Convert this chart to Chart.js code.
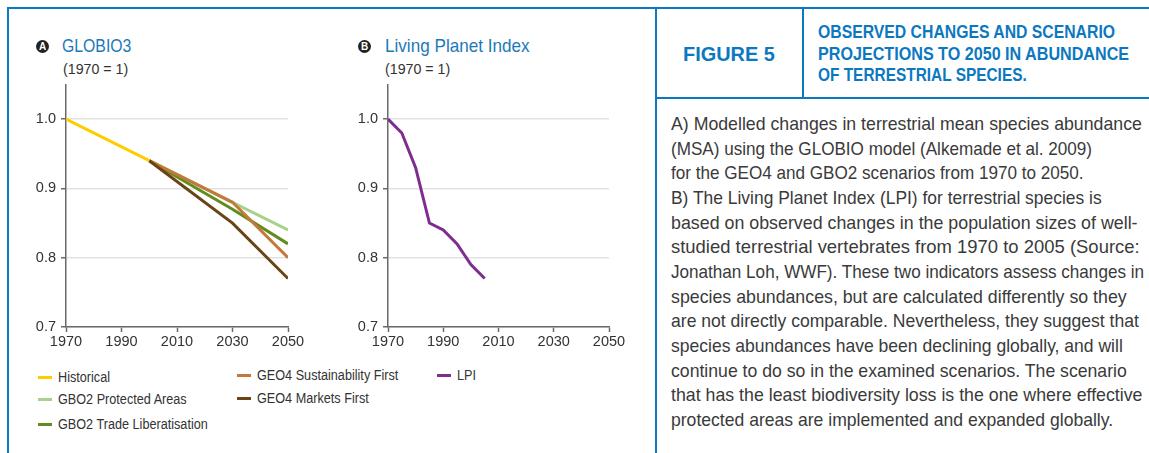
<!DOCTYPE html>
<html>
<head>
<meta charset="utf-8">
<script src="https://cdn.jsdelivr.net/npm/chart.js@4/dist/chart.umd.min.js"></script>
<style>
  body { margin: 0; width: 1149px; height: 453px; background: #fff; position: relative; overflow: hidden;
    font-family: "Liberation Sans", Arial, sans-serif; color: #333; }
  .abs { position: absolute; }
  .fit { white-space: nowrap; transform-origin: 0 0; }
  .badge { position: absolute; width: 13px; height: 13px; border-radius: 50%; background: #222; color: #fff;
    font: bold 10px "Liberation Sans", Arial, sans-serif; text-align: center; line-height: 13px; }
  .ptitle { position: absolute; color: #1b7ab8; font-size: 19px; line-height: 20px; }
  .unit { position: absolute; font-size: 14px; color: #333; }
  .legend-item { position: absolute; font-size: 14px; color: #333; line-height: 16px; }
  .legend-item i { position: absolute; left: 0; top: 7px; width: 14px; height: 3px; }
  .legend-item span { position: absolute; left: 20px; top: 0; }
  .border { position: absolute; background: #0b78c0; }
  #figno { position: absolute; left: 656px; top: 9px; width: 147px; height: 89px; color: #0b78c0; font-weight: bold; font-size: 21px; }
  #figno span { position: absolute; left: 27px; top: 33px; }
  #figtitle div { position: absolute; left: 818px; color: #0b78c0; font-weight: bold; font-size: 18px; line-height: 21px; }
  #caption div { position: absolute; left: 671px; font-size: 19px; line-height: 24px; color: #3a3a3a; }
</style>
</head>
<body>

<!-- frame lines -->
<div class="border" style="left:8px;top:7px;width:1141px;height:2px"></div>
<div class="border" style="left:7px;top:7px;width:2px;height:446px"></div>
<div class="border" style="left:655px;top:7px;width:2px;height:446px"></div>
<div class="border" style="left:802px;top:7px;width:2px;height:91px"></div>
<div class="border" style="left:656px;top:97px;width:493px;height:2px"></div>

<div class="badge" style="left:36px;top:40px">A</div>
<div class="ptitle fit" data-w="69" style="left:62px;top:36px">GLOBIO3</div>
<div class="unit fit" data-w="65" style="left:63px;top:61px">(1970 = 1)</div>

<div class="badge" style="left:358px;top:40px">B</div>
<div class="ptitle fit" data-w="145" style="left:385px;top:36px">Living Planet Index</div>
<div class="unit fit" data-w="65" style="left:385px;top:61px">(1970 = 1)</div>

<div class="abs" style="left:20px;top:80px;width:290px;height:272px"><canvas id="chart-globio"></canvas></div>
<div class="abs" style="left:342px;top:80px;width:289px;height:272px"><canvas id="chart-lpi"></canvas></div>

<div id="legend"></div>

<div id="figno"><span class="fit" data-w="92">FIGURE 5</span></div>
<div id="figtitle"></div>
<div id="caption"></div>

<script>
// Values (index, 1970 = 1).
const xTicks = [1970, 1990, 2010, 2030, 2050];
const yTicks = [0.7, 0.8, 0.9, 1.0];

const historicalYears = [1970, 2000];
const historical = [1.0, 0.94];

const scenarioYears = [2000, 2030, 2050];
const gbo2ProtectedAreas = [0.94, 0.88, 0.84];
const gbo2TradeLiberalisation = [0.94, 0.87, 0.82];
const geo4SustainabilityFirst = [0.94, 0.88, 0.80];
const geo4MarketsFirst = [0.94, 0.85, 0.77];

const lpiYears = [1970, 1975, 1980, 1985, 1990, 1995, 2000, 2005];
const lpi = [1.0, 0.98, 0.93, 0.85, 0.84, 0.82, 0.79, 0.77];

const titleLines = [
  "OBSERVED CHANGES AND SCENARIO",
  "PROJECTIONS TO 2050 IN ABUNDANCE",
  "OF TERRESTRIAL SPECIES.",
];
// Printed width of each title line, px.
const titleWidths = [297, 311, 209];

const captionLines = [
  "A) Modelled changes in terrestrial mean species abundance",
  "(MSA) using the GLOBIO model (Alkemade et al. 2009)",
  "for the GEO4 and GBO2 scenarios from 1970 to 2050.",
  "B) The Living Planet Index (LPI) for terrestrial species is",
  "based on observed changes in the population sizes of well-",
  "studied terrestrial vertebrates from 1970 to 2005 (Source:",
  "Jonathan Loh, WWF). These two indicators assess changes in",
  "species abundances, but are calculated differently so they",
  "are not directly comparable. Nevertheless, they suggest that",
  "species abundances have been declining globally, and will",
  "continue to do so in the examined scenarios. The scenario",
  "that has the least biodiversity loss is the one where effective",
  "protected areas are implemented and expanded globally.",
];
const captionWidths = [471, 392, 387, 431, 467, 469, 471, 456, 468, 452, 456, 471, 442];

const colors = {
  historical: "#ffcc00",
  protected: "#a9d18e",
  trade: "#638c1f",
  sustain: "#c27a3a",
  markets: "#6b4416",
  lpi: "#7e2c90",
};

function addLines(parent, lines, widths, top, step, minScale) {
  lines.forEach((text, i) => {
    const d = document.createElement("div");
    d.className = "fit";
    d.dataset.w = widths[i];
    if (minScale) d.dataset.min = minScale;
    d.style.top = (top + i * step) + "px";
    d.textContent = text;
    parent.appendChild(d);
  });
}
addLines(document.getElementById("figtitle"), titleLines, titleWidths, 22, 21.5);
addLines(document.getElementById("caption"), captionLines, captionWidths, 112, 24.67, 0.9);

const FONT = "'Liberation Sans', Arial, sans-serif";
const pts = (xs, ys) => xs.map((x, i) => ({ x, y: ys[i] }));

function line(label, data, color, order) {
  return { label, data, borderColor: color, backgroundColor: color, borderWidth: 3,
    pointRadius: 0, tension: 0, fill: false, order, borderCapStyle: "butt" };
}

function options() {
  const tickFont = { family: FONT, size: 14.5 };
  return {
    responsive: true,
    maintainAspectRatio: false,
    animation: false,
    layout: { padding: { top: 4.5, right: 22, left: 0, bottom: 0 } },
    plugins: { legend: { display: false }, tooltip: { enabled: false } },
    scales: {
      x: {
        type: "linear", min: xTicks[0], max: xTicks[xTicks.length - 1],
        afterBuildTicks: (s) => { s.ticks = xTicks.map((value) => ({ value })); },
        afterFit: (s) => { s.height = 25; s.paddingLeft = 0; s.paddingRight = 0; },
        border: { color: "#6a6a6a", width: 1.5 },
        grid: { drawOnChartArea: false, drawTicks: true, tickLength: 5, tickColor: "#6a6a6a", tickWidth: 1.5 },
        ticks: { color: "#333", font: tickFont, padding: 1, maxRotation: 0, callback: (v) => String(v) },
      },
      y: {
        min: 0.7, max: 1.05,
        afterBuildTicks: (s) => { s.ticks = yTicks.map((value) => ({ value })); },
        afterFit: (s) => { s.width = 46; s.paddingTop = 0; s.paddingBottom = 0; },
        border: { color: "#6a6a6a", width: 1.5 },
        grid: { color: "#e2e2e2", lineWidth: 1.5, drawTicks: true, tickLength: 5, tickColor: "#6a6a6a", tickWidth: 1.5 },
        ticks: { color: "#333", font: tickFont, padding: 5, callback: (v) => v.toFixed(1) },
      },
    },
  };
}

// Lower `order` draws on top: light green sits under the other scenarios.
new Chart(document.getElementById("chart-globio"), {
  type: "line",
  data: {
    datasets: [
      line("Historical", pts(historicalYears, historical), colors.historical, 1),
      line("GBO2 Protected Areas", pts(scenarioYears, gbo2ProtectedAreas), colors.protected, 5),
      line("GBO2 Trade Liberalisation", pts(scenarioYears, gbo2TradeLiberalisation), colors.trade, 4),
      line("GEO4 Sustainability First", pts(scenarioYears, geo4SustainabilityFirst), colors.sustain, 3),
      line("GEO4 Markets First", pts(scenarioYears, geo4MarketsFirst), colors.markets, 2),
    ],
  },
  options: options(),
});

new Chart(document.getElementById("chart-lpi"), {
  type: "line",
  data: { datasets: [line("LPI", pts(lpiYears, lpi), colors.lpi, 1)] },
  options: options(),
});

// Legend laid out in three columns under the two panels.
const legendItems = [
  ["Historical", colors.historical, 38, 369],
  ["GBO2 Protected Areas", colors.protected, 38, 391],
  ["GBO2 Trade Liberatisation", colors.trade, 38, 416],
  ["GEO4 Sustainability First", colors.sustain, 237, 367],
  ["GEO4 Markets First", colors.markets, 237, 390],
  ["LPI", colors.lpi, 437, 367],
];
const legend = document.getElementById("legend");
for (const [label, color, x, y] of legendItems) {
  const el = document.createElement("div");
  el.className = "legend-item";
  el.style.left = x + "px";
  el.style.top = y + "px";
  el.innerHTML = `<i style="background:${color}"></i><span class="fit">${label}</span>`;
  legend.appendChild(el);
}

// The print face is a condensed grotesque; squeeze the installed sans to the
// widths measured on the reference. Caption lines are not squeezed past 0.9 so
// the glyphs stay even from line to line.
for (const el of document.querySelectorAll(".fit[data-w]")) {
  let s = el.dataset.w / el.scrollWidth;
  if (el.dataset.min) s = Math.max(s, +el.dataset.min);
  el.style.transform = `scaleX(${s})`;
}
// Legend labels share one squeeze, taken from the longest label (150px wide).
const probe = [...legend.querySelectorAll("span")][2];
const k = 150 / probe.scrollWidth;
for (const s of legend.querySelectorAll("span")) s.style.transform = `scaleX(${k})`;
</script>
</body>
</html>
